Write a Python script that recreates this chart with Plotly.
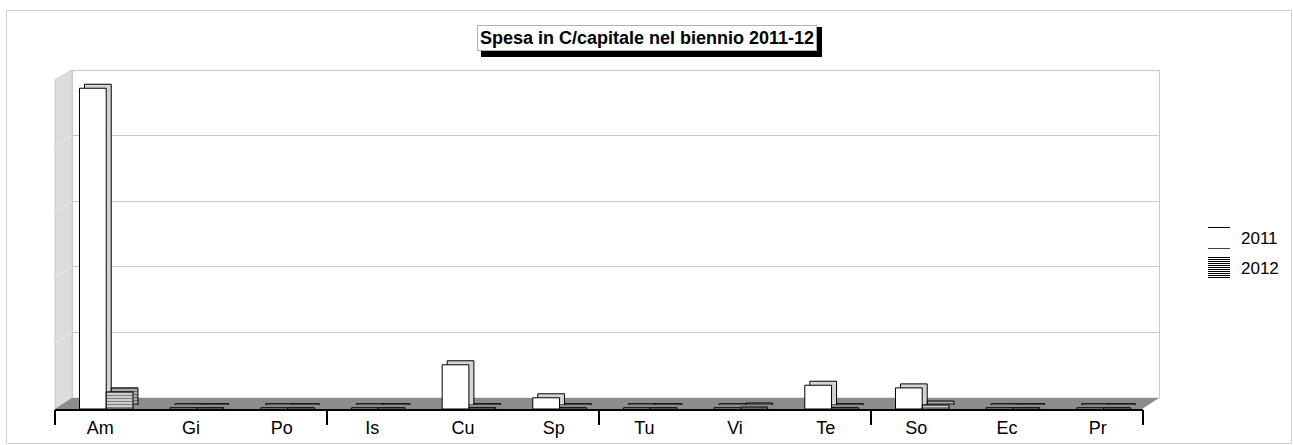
import plotly.graph_objects as go

# ---------------- data ----------------
categories = ["Am", "Gi", "Po", "Is", "Cu", "Sp", "Tu", "Vi", "Te", "So", "Ec", "Pr"]
v2011 = [4.86, 0.02, 0.02, 0.02, 0.67, 0.17, 0.02, 0.02, 0.36, 0.32, 0.02, 0.02]
v2012 = [0.26, 0.02, 0.02, 0.02, 0.02, 0.02, 0.02, 0.03, 0.02, 0.06, 0.02, 0.02]
series_names = ["2011", "2012"]
grid_vals = [1, 2, 3, 4]
title_text = "Spesa in C/capitale nel biennio 2011-12"

# ---------------- geometry helpers (pixels -> paper) ----------------
W, H = 1293, 445
def px(x):
    return x / W
def py(y):
    return 1 - y / H

FONT = "Arial, Liberation Sans, sans-serif"
BW = 0.295            # bar width in category units
OFF = [-0.23, 0.065]  # bar offsets
DX, DY = 5, 4         # 3-D depth shift in px

fig = go.Figure()

# back copies (side/top faces) on x2/y2, shifted by the depth
fig.add_trace(go.Bar(
    x=categories, y=v2011, xaxis="x2", yaxis="y2", name=series_names[0],
    width=BW, offset=OFF[0],
    marker=dict(color="#d4d4d4", line=dict(color="black", width=1)),
    showlegend=False, hoverinfo="skip",
))
fig.add_trace(go.Bar(
    x=categories, y=v2012, xaxis="x2", yaxis="y2", name=series_names[1],
    width=BW, offset=OFF[1],
    marker=dict(color="#d4d4d4", line=dict(color="black", width=1),
                pattern=dict(shape="-", fgcolor="black", bgcolor="#d4d4d4", size=3, solidity=0.6)),
    showlegend=False, hoverinfo="skip",
))

# front faces on x3/y3
fig.add_trace(go.Bar(
    x=categories, y=v2011, name=series_names[0], xaxis="x3", yaxis="y3",
    width=BW, offset=OFF[0], showlegend=False,
    marker=dict(color="white", line=dict(color="black", width=1)),
))
fig.add_trace(go.Bar(
    x=categories, y=v2012, name=series_names[1], xaxis="x3", yaxis="y3",
    width=BW, offset=OFF[1], showlegend=False,
    marker=dict(color="white", line=dict(color="black", width=1),
                pattern=dict(shape="-", fgcolor="black", bgcolor="white", size=3, solidity=0.6)),
))
# dummy traces to carry the tick axis and back-wall axes
fig.add_trace(go.Scatter(x=[], y=[], xaxis="x4", yaxis="y3", showlegend=False, hoverinfo="skip"))
fig.add_trace(go.Scatter(x=[], y=[], xaxis="x", yaxis="y", showlegend=False, hoverinfo="skip"))

# ---------------- shapes (walls / floor / frame) ----------------
shapes = []
shapes.append(dict(type="rect", xref="paper", yref="paper", x0=px(6.5), x1=px(1291.5), y0=py(443.5), y1=py(10.5),
                   line=dict(color="#d0d0d0", width=1), fillcolor="rgba(0,0,0,0)", layer="below"))
shapes.append(dict(type="rect", xref="paper", yref="paper", x0=px(72.5), x1=px(1159.5), y0=py(398), y1=py(70.5),
                   line=dict(color="#c8c8c8", width=1), fillcolor="white", layer="below"))
shapes.append(dict(type="path", xref="paper", yref="paper",
                   path=f"M{px(55)},{py(80)} L{px(72)},{py(70)} L{px(72)},{py(398)} L{px(55)},{py(409)} Z",
                   fillcolor="#dcdcdc", line=dict(color="#c8c8c8", width=1), layer="below"))
for g in grid_vals:
    yb = 398 - g * (398 - 70) / 5
    yf = 409 - g * (409 - 80) / 5
    shapes.append(dict(type="line", xref="paper", yref="paper", x0=px(55), y0=py(yf), x1=px(72), y1=py(yb),
                       line=dict(color="#ececec", width=1), layer="below"))
shapes.append(dict(type="path", xref="paper", yref="paper",
                   path=f"M{px(55)},{py(409)} L{px(72)},{py(398)} L{px(1159)},{py(398)} L{px(1142)},{py(409)} Z",
                   fillcolor="#8c8c8c", line=dict(color="#8c8c8c", width=0), layer="below"))

# title shadow
shapes.append(dict(type="rect", xref="paper", yref="paper", x0=px(481), x1=px(822), y0=py(57), y1=py(27),
                   fillcolor="black", line=dict(width=0), layer="above"))

# custom legend symbols
LX0, LX1 = 1208, 1230
shapes.append(dict(type="rect", xref="paper", yref="paper", x0=px(LX0), x1=px(LX1), y0=py(248), y1=py(227),
                   fillcolor="white", line=dict(width=0), layer="above"))
shapes.append(dict(type="line", xref="paper", yref="paper", x0=px(LX0), x1=px(LX1), y0=py(227.5), y1=py(227.5),
                   line=dict(color="black", width=1), layer="above"))
shapes.append(dict(type="line", xref="paper", yref="paper", x0=px(LX0), x1=px(LX1), y0=py(248.5), y1=py(248.5),
                   line=dict(color="#444444", width=1), layer="above"))
yy = 257
while yy <= 278:
    shapes.append(dict(type="line", xref="paper", yref="paper", x0=px(LX0), x1=px(LX1),
                       y0=py(yy + 0.5), y1=py(yy + 0.5),
                       line=dict(color="black", width=1), layer="above"))
    yy += 2

# ---------------- layout ----------------
x_cat = dict(type="category", categoryorder="array", categoryarray=categories,
             range=[-0.5, len(categories) - 0.5], showgrid=False, zeroline=False)

annotations = [
    dict(text=f"<b>{title_text}</b>", xref="paper", yref="paper", x=px(647), y=py(38),
         xanchor="center", yanchor="middle",
         showarrow=False, font=dict(size=18, family=FONT, color="black"),
         bgcolor="white", bordercolor="#b0b0b0", borderwidth=1, borderpad=2),
    dict(text=series_names[0], xref="paper", yref="paper", x=px(1239), y=py(238),
         xanchor="left", yanchor="middle", showarrow=False, font=dict(size=17, family=FONT, color="black")),
    dict(text=series_names[1], xref="paper", yref="paper", x=px(1239), y=py(268),
         xanchor="left", yanchor="middle", showarrow=False, font=dict(size=17, family=FONT, color="black")),
]

fig.update_layout(
    width=W, height=H,
    margin=dict(l=0, r=0, t=0, b=0),
    paper_bgcolor="white", plot_bgcolor="rgba(0,0,0,0)",
    barmode="overlay",
    showlegend=False,
    font=dict(family=FONT, color="black"),
    shapes=shapes,
    annotations=annotations,
    xaxis=dict(domain=[px(72), px(1159)], range=[0, 1], showgrid=False, zeroline=False,
               showticklabels=False, anchor="y"),
    yaxis=dict(domain=[py(398), py(70)], range=[0, 5], dtick=1, showgrid=True, gridcolor="#c8c8c8",
               zeroline=False, showticklabels=False, anchor="x"),
    xaxis2=dict(domain=[px(55 + DX), px(1143 + DX)], anchor="y2", showticklabels=False, **x_cat),
    yaxis2=dict(domain=[py(409 - DY), py(79 - DY)], range=[0, 5], anchor="x2", showgrid=False,
                zeroline=False, showticklabels=False),
    xaxis3=dict(domain=[px(55), px(1143)], anchor="y3", showticklabels=True, ticks="",
                tickfont=dict(size=18, family=FONT, color="black"),
                showline=True, linecolor="black", linewidth=2, ticklabelstandoff=1, **x_cat),
    yaxis3=dict(domain=[py(409), py(79)], range=[0, 5], anchor="x3", showgrid=False,
                zeroline=False, showticklabels=False),
    xaxis4=dict(overlaying="x3", anchor="y3", range=[0, 12], tickvals=[0, 3, 6, 9, 12],
                ticks="outside", ticklen=15, tickwidth=1.5, tickcolor="black",
                showticklabels=False, showgrid=False, zeroline=False, showline=False),
)

fig.write_html("out.html", config={"displayModeBar": False},
               post_script="document.body.style.margin='0';document.body.style.overflow='hidden';")
